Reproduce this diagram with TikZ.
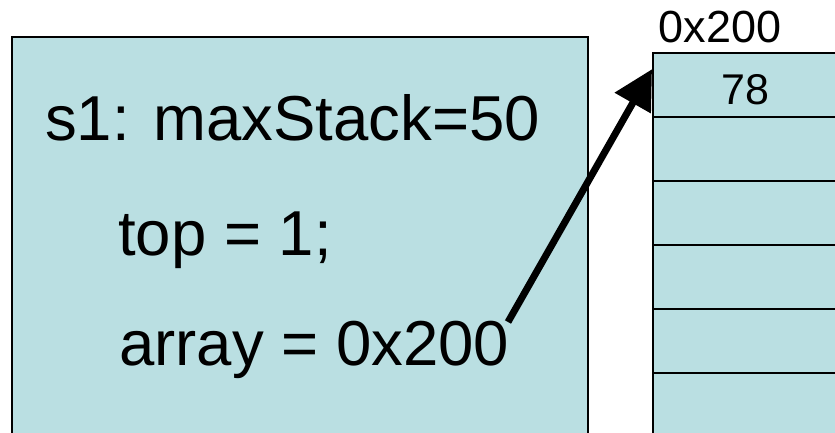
\documentclass[tikz,border=0pt]{standalone}
\usepackage{fontspec}
\setmainfont{Liberation Sans}
\usetikzlibrary{arrows.meta,positioning}
\definecolor{cellfill}{HTML}{BADFE2}

\begin{document}
\begin{tikzpicture}[x=1pt,y=-1pt,
  box/.style={draw=black,line width=2.4pt,fill=cellfill},
  cell/.style={box,minimum width=200pt,minimum height=64pt,inner sep=0pt,anchor=north west},
  big/.style={font=\fontsize{63.5}{70}\selectfont,anchor=base west,inner sep=0pt},
  small/.style={font=\fontsize{45}{50}\selectfont,anchor=base,inner sep=0pt}]
\useasboundingbox (0,0) rectangle (835,433);
\clip (0,0) rectangle (835,433);
% the struct s1
\draw[box] (12,37) rectangle (588,470);
\node[big] (maxline) at (45,140) {s1: maxStack=50};
\node[big] (topline) at (118,255) {top = 1;};
\node[big] (arrline) at (119,365) {array = 0x200};
% the array it points to
\foreach \i in {0,...,5}
  \node[cell] (cell\i) at (652,52+64*\i) {};
\node[small] (addr) at (720,43) {0x200};
\node[small,font=\fontsize{43}{48}\selectfont] (val) at (cell0.center -| 745,0) [yshift=-19pt] {78};
\coordinate (ptr) at (508,322);
\draw[line width=7pt,-{Triangle[length=39pt,width=40pt]}] (ptr) -- ([yshift=16pt]cell0.west);
\end{tikzpicture}
\end{document}
